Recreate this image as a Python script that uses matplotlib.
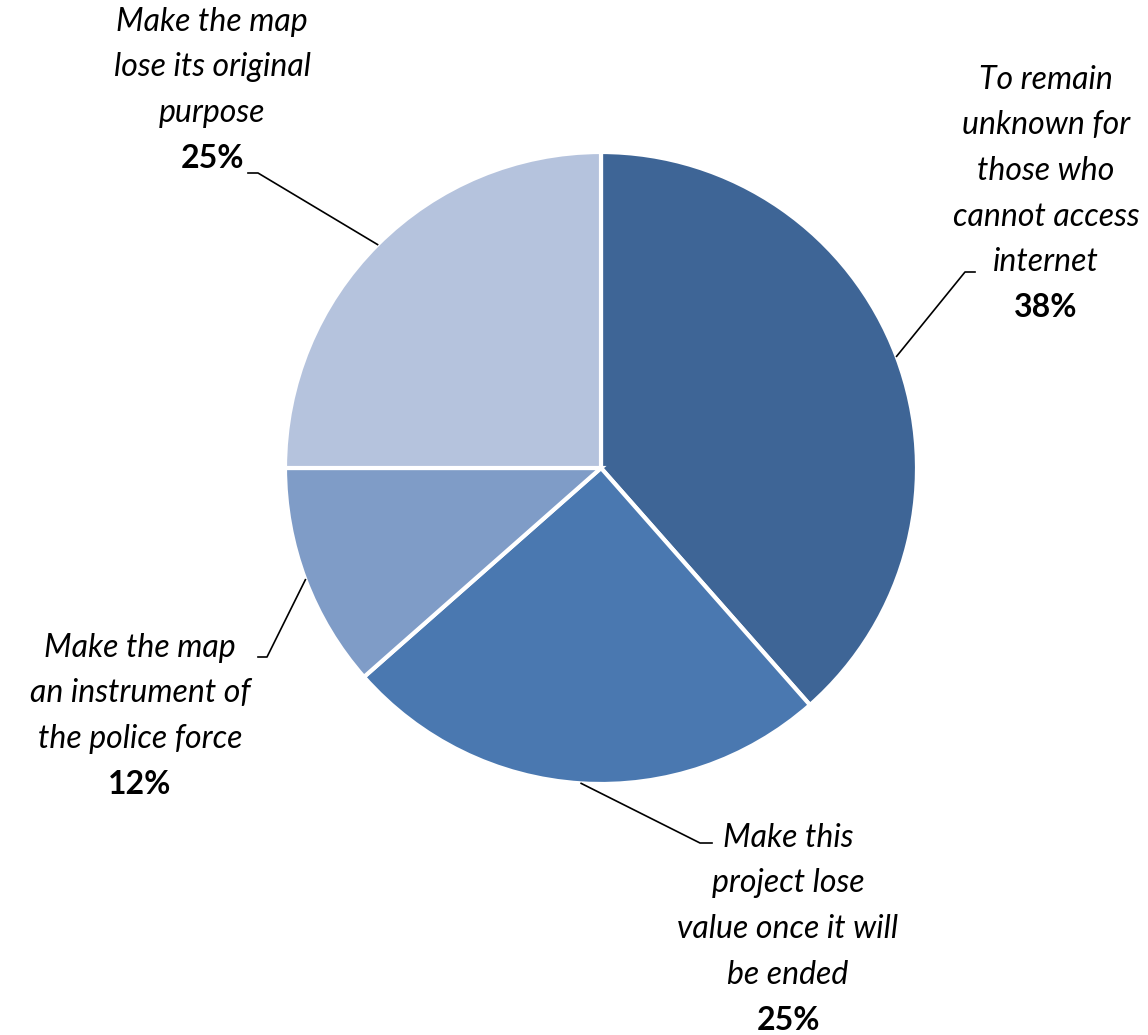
import numpy as np
import matplotlib.pyplot as plt

categories = [
    "To remain\nunknown for\nthose who\ncannot access\ninternet",
    "Make this\nproject lose\nvalue once it will\nbe ended",
    "Make the map\nan instrument of\nthe police force",
    "Make the map\nlose its original\npurpose",
]
values = [38.5, 25, 11.5, 25]
pct_labels = ["38%", "25%", "12%", "25%"]
colors = ["#3E6596", "#4A78B0", "#7F9CC7", "#B5C3DD"]

W, H = 1148, 1035
cx, cy, R = 601, 468, 316

fig = plt.figure(figsize=(W / 100, H / 100), dpi=100)
ax = fig.add_axes([(cx - R) / W, (H - cy - R) / H, 2 * R / W, 2 * R / H])

wedges, _ = ax.pie(values, colors=colors, startangle=90, counterclock=False,
                   radius=1, wedgeprops=dict(edgecolor="white", linewidth=3))
ax.set_xlim(-1, 1)
ax.set_ylim(-1, 1)
ax.set_aspect("equal")
ax.axis("off")


def to_data(px, py):
    return (px - cx) / R, (cy - py) / R


# label layout: centre x, first line y, leader bend and end (pixels)
layout = [
    dict(x=1046, y=80, bend=(965, 272), end=(975, 272)),
    dict(x=788, y=838, bend=(700, 843), end=(712, 843)),
    dict(x=140, y=648, bend=(267, 657), end=(258, 657)),
    dict(x=212, y=22, bend=(258, 173), end=(248, 173)),
]

fs = 23
line_px = 45.5
for w, cat, pct, lay in zip(wedges, categories, pct_labels, layout):
    ang = np.deg2rad((w.theta1 + w.theta2) / 2)
    px0 = cx + R * np.cos(ang)
    py0 = cy - R * np.sin(ang)
    pts = [to_data(px0, py0), to_data(*lay["bend"]), to_data(*lay["end"])]
    ax.plot([p[0] for p in pts], [p[1] for p in pts], color="black", lw=1.2,
            clip_on=False)
    nlines = cat.count("\n") + 1
    for i, line in enumerate(cat.split("\n")):
        tx, ty = to_data(lay["x"], lay["y"] + i * line_px)
        ax.text(tx, ty, line, ha="center", va="center", fontsize=fs,
                style="italic", family="Lato", clip_on=False)
    tx, ty = to_data(lay["x"], lay["y"] + nlines * line_px)
    ax.text(tx, ty, pct, ha="center", va="center", fontsize=fs,
            fontweight="bold", family="Lato", clip_on=False)

fig.savefig("out.png", dpi=100)
